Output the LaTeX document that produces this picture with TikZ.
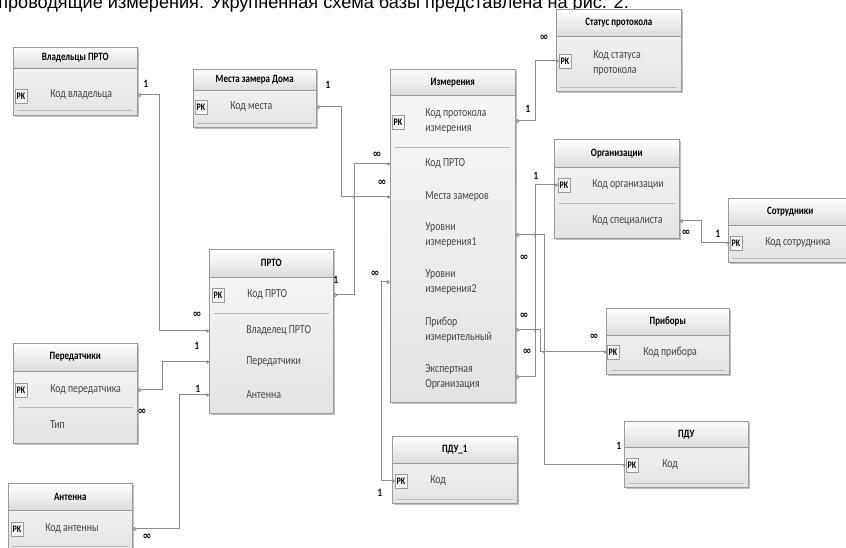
\documentclass[tikz,border=0pt]{standalone}
\usepackage{fontspec}
\newfontfamily\erfont[FakeStretch=0.8]{Carlito}
\newfontfamily\introfont{Liberation Sans}
\newfontfamily\symfont{DejaVu Sans}
\usetikzlibrary{arrows.meta,shadows}
\definecolor{frame}{HTML}{9A9A9A}
\definecolor{linkgray}{HTML}{8C8C8C}
\definecolor{fieldtext}{HTML}{454545}

\begin{document}
\begin{tikzpicture}[x=0.75pt,y=-0.75pt,
  tbl/.style 2 args={draw=frame, anchor=north west, inner sep=0pt,
    minimum width=#1*0.75pt, minimum height=#2*0.75pt,
    top color=white!97!black, bottom color=white!89!black,
    drop shadow={shadow xshift=1.2pt, shadow yshift=-1.2pt, opacity=0.25, fill=black}},
  hdr/.style 2 args={draw=frame, anchor=north west, inner sep=0pt,
    minimum width=#1*0.75pt, minimum height=#2*0.75pt,
    top color=white, bottom color=white!86!black, text=black,
    font=\erfont\bfseries\fontsize{8.4pt}{10pt}\selectfont},
  fld/.style={anchor=west, inner sep=0pt, align=left, text=fieldtext,
    font=\erfont\fontsize{9.2pt}{11.3pt}\selectfont},
  pk/.style={draw=frame, fill=white!97!black, inner sep=0pt,
    minimum width=9pt, minimum height=10.5pt, text=black,
    font=\erfont\bfseries\fontsize{7.5pt}{8pt}\selectfont},
  rowsep/.style={draw=gray!55, line width=0.6pt},
  link/.style={draw=linkgray, line width=0.75pt,
    {Circle[length=3pt, fill=white]}-{Circle[length=2.2pt]}},
  card/.style={inner sep=0pt, font=\erfont\bfseries\fontsize{8.4pt}{9pt}\selectfont},
  many/.style={inner sep=0pt, font=\symfont\bfseries\fontsize{8pt}{8pt}\selectfont},
  junction/.style={circle, fill=linkgray, inner sep=0pt, minimum size=2.2pt}
]
\useasboundingbox (0,0) rectangle (846,548);
\clip (0,0) rectangle (846,548);

% running text above the schema
\node[anchor=base west, inner sep=0pt, font=\introfont\fontsize{13.6pt}{15pt}\selectfont]
  (intro) at (-2,9) {проводящие измерения. Укрупненная схема базы представлена на рис. 2.};

% ---------- Владельцы ПРТО ----------
\node[tbl={124}{68}] (own) at (13,47) {};
\node[hdr={124}{21}] (own-h) at (13,47) {Владельцы ПРТО};
\node[pk] (own-pk) at (21,96) {PK};
\node[fld] (own-f1) at (50,95) {Код владельца};
\draw[rowsep] (17,110) -- (133,110);

% ---------- Места замера Дома ----------
\node[tbl={123}{58}] (meas) at (193,69) {};
\node[hdr={123}{21}] (meas-h) at (193,69) {Места замера Дома};
\node[pk] (meas-pk) at (201,107) {PK};
\node[fld] (meas-f1) at (230,107) {Код места};
\draw[rowsep] (197,123) -- (312,123);

% ---------- Измерения ----------
\node[tbl={125}{333}] (izm) at (390,69) {};
\node[hdr={125}{26}] (izm-h) at (390,69) {Измерения};
\node[pk] (izm-pk) at (398,122) {PK};
\node[fld] (izm-f1) at (425,121) {Код протокола\\измерения};
\draw[rowsep] (395,147) -- (510,147);
\node[fld] (izm-f2) at (425,164) {Код ПРТО};
\node[fld] (izm-f3) at (425,197) {Места замеров};
\node[fld] (izm-f4) at (425,235) {Уровни\\измерения1};
\node[fld] (izm-f5) at (425,282) {Уровни\\измерения2};
\node[fld] (izm-f6) at (425,330) {Прибор\\измерительный};
\node[fld] (izm-f7) at (425,377) {Экспертная\\Организация};

% ---------- Статус протокола ----------
\node[tbl={125}{82}] (stat) at (556,9) {};
\node[hdr={125}{27}] (stat-h) at (556,9) {Статус протокола};
\node[pk] (stat-pk) at (565,61) {PK};
\node[fld] (stat-f1) at (593,63) {Код статуса\\протокола};
\draw[rowsep] (560,87) -- (677,87);

% ---------- Организации ----------
\node[tbl={125}{99}] (org) at (554,139) {};
\node[hdr={125}{28}] (org-h) at (554,139) {Организации};
\node[pk] (org-pk) at (564,185) {PK};
\node[fld] (org-f1) at (592,185) {Код организации};
\draw[rowsep] (559,203) -- (675,203);
\node[fld] (org-f2) at (592,221) {Код специалиста};

% ---------- Сотрудники ----------
\node[tbl={124}{64}] (emp) at (728,198) {};
\node[hdr={124}{27}] (emp-h) at (728,198) {Сотрудники};
\node[pk] (emp-pk) at (736,243) {PK};
\node[fld] (emp-f1) at (765,243) {Код сотрудника};
\draw[rowsep] (733,258) -- (848,258);

% ---------- Приборы ----------
\node[tbl={123}{66}] (dev) at (606,308) {};
\node[hdr={123}{27}] (dev-h) at (606,308) {Приборы};
\node[pk] (dev-pk) at (613,352) {PK};
\node[fld] (dev-f1) at (643,352) {Код прибора};
\draw[rowsep] (611,370) -- (725,370);

% ---------- ПДУ ----------
\node[tbl={124}{66}] (pdu) at (624,421) {};
\node[hdr={124}{26}] (pdu-h) at (624,421) {ПДУ};
\node[pk] (pdu-pk) at (632,465) {PK};
\node[fld] (pdu-f1) at (662,465) {Код};
\draw[rowsep] (629,483) -- (744,483);

% ---------- ПДУ_1 ----------
\node[tbl={125}{67}] (pdua) at (392,436) {};
\node[hdr={125}{27}] (pdua-h) at (392,436) {ПДУ\_1};
\node[pk] (pdua-pk) at (401,481) {PK};
\node[fld] (pdua-f1) at (430,481) {Код};
\draw[rowsep] (397,499) -- (513,499);

% ---------- ПРТО ----------
\node[tbl={124}{164}] (prto) at (209,249) {};
\node[hdr={124}{28}] (prto-h) at (209,249) {ПРТО};
\node[pk] (prto-pk) at (218,295) {PK};
\node[fld] (prto-f1) at (247,295) {Код ПРТО};
\draw[rowsep] (214,313) -- (329,313);
\node[fld] (prto-f2) at (246,331) {Владелец ПРТО};
\node[fld] (prto-f3) at (246,362) {Передатчики};
\node[fld] (prto-f4) at (246,395) {Антенна};

% ---------- Передатчики ----------
\node[tbl={124}{100}] (tx) at (13,343) {};
\node[hdr={124}{28}] (tx-h) at (13,343) {Передатчики};
\node[pk] (tx-pk) at (21,390) {PK};
\node[fld] (tx-f1) at (50,390) {Код передатчика};
\draw[rowsep] (18,407) -- (133,407);
\node[fld] (tx-f2) at (50,425) {Тип};

% ---------- Антенна ----------
\node[tbl={124}{70}] (ant) at (8,483) {};
\node[hdr={124}{27}] (ant-h) at (8,483) {Антенна};
\node[pk] (ant-pk) at (17,529) {PK};
\node[fld] (ant-f1) at (45,529) {Код антенны};
\draw[rowsep] (12,546) -- (128,546);

% ---------- relationships ----------
\draw[link] (own.east |- own-f1) -- ++(22,0) |- (prto.west |- prto-f2);
\draw[link] (meas.east |- meas-f1) -- ++(25,0) |- (izm.west |- izm-f3);
\draw[link] (prto.east |- prto-f1) -- ++(21,0) |- (izm.west |- izm-f2);
\draw[link] (izm.east |- izm-f1) -- ++(20,0) |- (stat-pk.west);
\draw[link] (izm.east |- izm-f7) -- ++(20,0) |- (org-pk.west);
\draw[link] (izm.east |- izm-f4) -- ++(29,0) |- (pdu-pk.west);
\draw[link] (izm.east |- izm-f6) -- ++(25,0) |- (dev-pk.west);
\draw[link] (izm.west |- izm-f5) -- ++(-9,0) |- (pdua-pk.west);
\draw[link] (org.east |- org-f2) -- ++(22,0) |- (emp-pk.west);
\draw[link] (tx.east |- tx-f1) -- ++(25,0) |- (prto.west |- prto-f3);
\draw[link] (ant.east |- ant-f1) -- ++(47,0) |- (prto.west |- prto-f4);

% line crossings
\node[junction] (j1) at (354,197) {};
\node[junction] (j2) at (535,235) {};
\node[junction] (j3) at (535,330) {};
\node[junction] (j4) at (544,352) {};

% cardinalities
\node[card] (c1) at (146,84) {1};
\node[card] (c2) at (328,85) {1};
\node[card] (c3) at (336,280) {1};
\node[card] (c4) at (528,109) {1};
\node[card] (c5) at (536,176) {1};
\node[card] (c6) at (619,446) {1};
\node[card] (c7) at (380,493) {1};
\node[card] (c8) at (718,234) {1};
\node[card] (c9) at (197,346) {1};
\node[card] (c10) at (198,389) {1};

\node[many] (m1) at (197,315) {∞};
\node[many] (m2) at (382,183) {∞};
\node[many] (m3) at (377,155) {∞};
\node[many] (m4) at (544,38) {∞};
\node[many] (m5) at (524,258) {∞};
\node[many] (m6) at (524,316) {∞};
\node[many] (m7) at (527,352) {∞};
\node[many] (m8) at (594,337) {∞};
\node[many] (m9) at (375,274) {∞};
\node[many] (m10) at (686,233) {∞};
\node[many] (m11) at (142,412) {∞};
\node[many] (m12) at (147,537) {∞};
\end{tikzpicture}
\end{document}
